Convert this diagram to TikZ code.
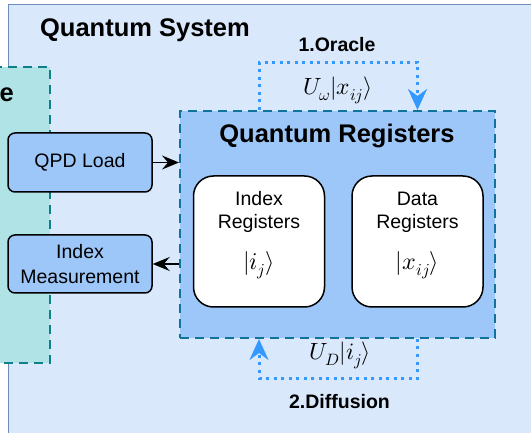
\documentclass[tikz,border=0pt]{standalone}
\usepackage{amsmath}
\usepackage{fontspec}
\usepackage{unicode-math}
\setmainfont{Liberation Sans}
\setmathfont{Latin Modern Math}
\usetikzlibrary{arrows.meta,positioning}
\definecolor{system blue}{HTML}{DAE8FC}
\definecolor{system line}{HTML}{6C8EBF}
\definecolor{module teal}{HTML}{B0E3E6}
\definecolor{module line}{HTML}{0E8088}
\definecolor{register blue}{HTML}{9DC7F9}
\definecolor{register line}{HTML}{10739E}
\definecolor{loop blue}{HTML}{3399FF}

\tikzset{
	opbox/.style={draw=black, line width=1.5pt, rounded corners=7pt, fill=register blue,
		align=center, minimum width=144pt, inner sep=0pt,
		font=\fontsize{19.5}{25}\selectfont},
	regbox/.style={draw=black, line width=1.5pt, rounded corners=20pt, fill=white,
		minimum width=131pt, minimum height=131pt},
	regtext/.style={align=center, inner sep=0pt, font=\fontsize{19.5}{23}\selectfont},
	heading/.style={font=\fontsize{25.5}{30}\selectfont\bfseries, inner sep=0pt, anchor=base},
	steplabel/.style={font=\fontsize{19.5}{24}\selectfont\bfseries, inner sep=0pt, anchor=base},
	ketlabel/.style={font=\fontsize{23.5}{28}\selectfont, inner sep=0pt},
	loopline/.style={draw=loop blue, line width=3pt, dash pattern=on 3pt off 4.5pt,
		-{Stealth[length=21pt, width=19pt, inset=7pt, fill=loop blue]}},
	feed/.style={draw=black, line width=1.5pt, -{Stealth[length=17pt, width=14pt, inset=6pt]}}
}

\begin{document}
\begin{tikzpicture}[x=1pt, y=-1pt]
			\useasboundingbox (0,0) rectangle (531,433);
			\clip (0,0) rectangle (531,433);
			% outer frame of the system
			\fill[white] (0,0) rectangle (531,433);
			\draw[system line, fill=system blue, line width=1pt] (8,5) rectangle (560,460);
			\node[heading] (system title) at (145,37) {Quantum System};
			% neighbouring module on the left
			\draw[module line, fill=module teal, line width=2pt, dash pattern=on 9pt off 6pt]
				(-60,67) rectangle (50,363);
			\node[heading, anchor=base east] (module title) at (14,102) {e};
			% operations outside the registers
			\node[opbox, minimum height=59pt] (qpd) at (80,162.5) {QPD Load};
			\node[opbox, minimum height=58pt] (imeas) at (80,264) {Index\\Measurement};
			% part for the registers
			\begin{scope}
				\node[draw=register line, fill=register blue, line width=2pt,
					dash pattern=on 9pt off 6pt, minimum width=315pt, minimum height=227pt]
					(qreg) at (337.5,224.5) {};
				\node[heading] (qreg title) at (337,143) {Quantum Registers};
				\node[regbox] (index reg) at (259,241.5) {};
				\node[regbox] (data reg) at (417.5,241.5) {};
				\node[regtext] (index txt) at ([yshift=6pt]index reg.center)
					{Index\\Registers\\[18pt]{\fontsize{24}{28}\selectfont$|i_j\rangle$}};
				\node[regtext] (data txt) at ([yshift=6pt]data reg.center)
					{Data\\Registers\\[18pt]{\fontsize{24}{28}\selectfont$|x_{ij}\rangle$}};
			\end{scope}
			% load and measurement
			\draw[feed] (qpd.east) -- (qpd.east -| qreg.west);
			\draw[feed] (imeas.east -| qreg.west) -- (imeas.east);
			% oracle and diffusion loops
			\draw[loopline] (index reg.north |- qreg.north) -- (index reg.north |- 0,63)
				-| (data reg.north |- qreg.north);
			\node[ketlabel] (oracle op) at (338,90) {$U_\omega|x_{ij}\rangle$};
			\node[steplabel] (oracle) at (337,52) {1.Oracle};
			\draw[loopline] (data reg.south |- qreg.south) -- (data reg.south |- 0,378)
				-| (index reg.south |- qreg.south);
			\node[ketlabel] (diffusion op) at (340,355) {$U_D|i_j\rangle$};
			\node[steplabel] (diffusion) at (339.5,408) {2.Diffusion};
		\end{tikzpicture}
\end{document}
